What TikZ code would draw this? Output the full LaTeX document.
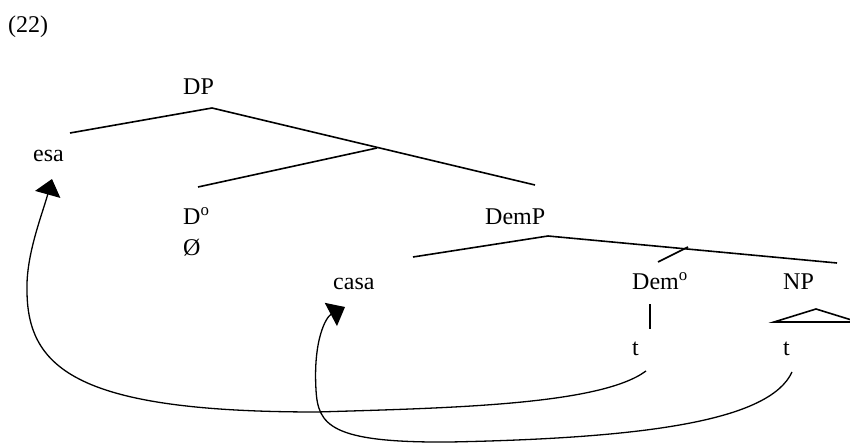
\documentclass[tikz,border=0pt]{standalone}
\usepackage{fontspec}
\setmainfont{Liberation Serif}
\usetikzlibrary{arrows.meta}
\begin{document}
\begin{tikzpicture}[x=1pt,y=-1pt,
  lbl/.style={inner sep=0pt,anchor=base west,font=\fontsize{24}{28}\selectfont},
  branch/.style={line width=1.6pt},
  mv/.style={line width=1.3pt,-{Triangle[length=16pt,width=26pt]}}]
\useasboundingbox (0,0) rectangle (850,443);
% labels
\node[lbl] (ex)   at (8,33)    {(22)};
\node[lbl] (dp)   at (183,95)  {DP};
\node[lbl] (esa)  at (33,162)  {esa};
\node[lbl] (d0)   at (183,225) {D\textsuperscript{o}};
\node[lbl] (null) at (183,256) {Ø};
\node[lbl] (demp) at (485,225) {DemP};
\node[lbl] (casa) at (333,290) {casa};
\node[lbl] (dem0) at (632,290) {Dem\textsuperscript{o}};
\node[lbl] (np)   at (783,290) {NP};
\node[lbl] (t1)   at (632,355) {t};
\node[lbl] (t2)   at (783,355) {t};
% branch points
\coordinate (dpTop)   at (212,108);
\coordinate (esaEnd)  at (70,133);
\coordinate (dpRight) at (535,185);
\coordinate (midNode) at (377,148);
\coordinate (d0End)   at (198,187);
\coordinate (dempTop) at (548,236);
\coordinate (casaEnd) at (413,257);
\coordinate (npEnd)   at (837,263);
\coordinate (demMid)  at (688,247);
\coordinate (dem0End) at (658,262);
\coordinate (barTop)  at (650,304);
\coordinate (barBot)  at (650,329);
\coordinate (triL)    at (774,322);
\coordinate (triA)    at (816,309);
\coordinate (triR)    at (858,322);
% tree
\draw[branch] (esaEnd) -- (dpTop) -- (dpRight);
\draw[branch] (midNode) -- (d0End);
\draw[branch] (casaEnd) -- (dempTop) -- (npEnd);
\draw[branch] (demMid) -- (dem0End);
\draw[branch] (barTop) -- (barBot);
\draw[branch] (triL) -- (triA) -- (triR) -- cycle;
% movement arrows
\coordinate (s1) at (646,371);
\coordinate (a1) at (317,412);
\coordinate (b1) at (27,290);
\coordinate (e1) at (52,179);
\draw[mv] (s1) .. controls (600,405) and (450,408) .. (a1)
  .. controls (80,412) and (27,370) .. (b1)
  .. controls (26,255) and (42,215) .. (e1);
\coordinate (s2) at (792,372);
\coordinate (a2) at (450,442);
\coordinate (b2) at (316,390);
\coordinate (e2) at (345,307);
\draw[mv] (s2) .. controls (770,420) and (650,438) .. (a2)
  .. controls (330,443) and (318,425) .. (b2)
  .. controls (313,340) and (326,317) .. (e2);
\end{tikzpicture}
\end{document}
